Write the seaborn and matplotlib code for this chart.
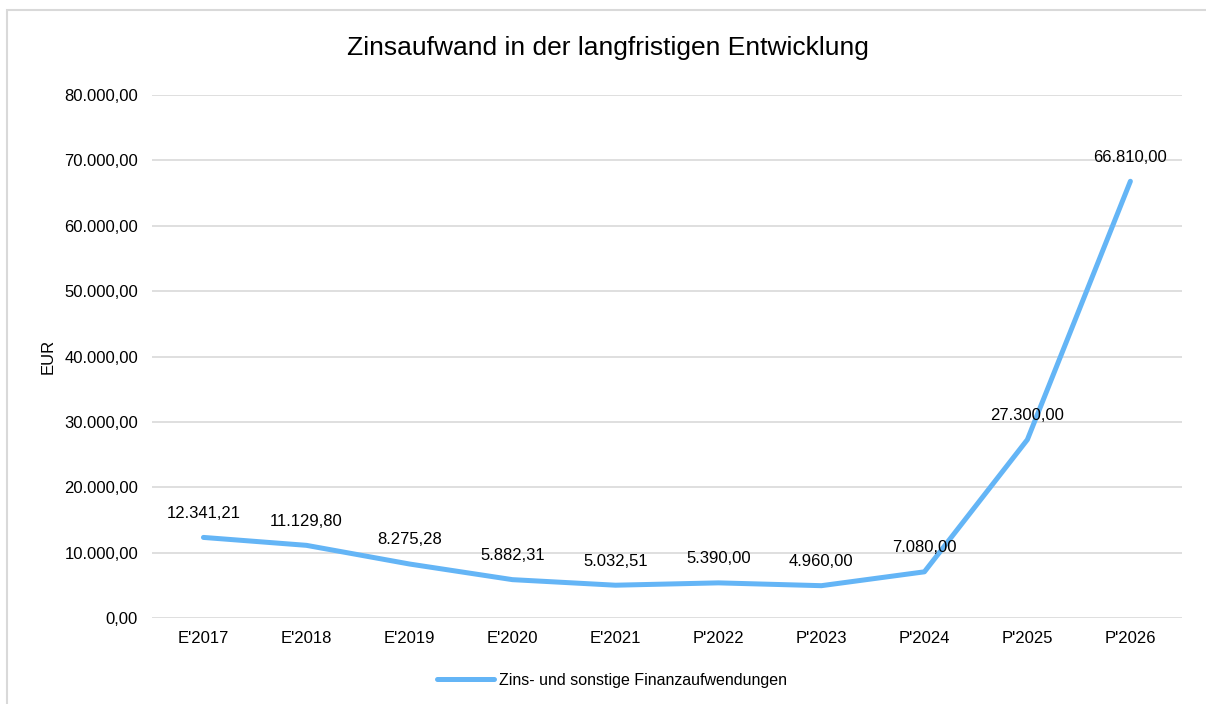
import matplotlib
matplotlib.use("Agg")
import matplotlib.pyplot as plt
import matplotlib.ticker as mticker
from matplotlib.patches import Rectangle
import seaborn as sns
import pandas as pd

years = ["E'2017", "E'2018", "E'2019", "E'2020", "E'2021",
         "P'2022", "P'2023", "P'2024", "P'2025", "P'2026"]
zinsaufwand = [12341.21, 11129.80, 8275.28, 5882.31, 5032.51,
               5390.00, 4960.00, 7080.00, 27300.00, 66810.00]
series_name = "Zins- und sonstige Finanzaufwendungen"


def de_format(v, pos=None):
    s = f"{v:,.2f}"
    return s.replace(",", "X").replace(".", ",").replace("X", ".")


df = pd.DataFrame({"Jahr": years, "EUR": zinsaufwand, "Reihe": series_name})

sns.set_style("white")
plt.rcParams["font.family"] = ["Liberation Sans", "DejaVu Sans"]
plt.rcParams["text.color"] = "black"
plt.rcParams["axes.labelcolor"] = "black"

fig = plt.figure(figsize=(12.06, 7.04), dpi=100)
ax = fig.add_axes([0.126, 0.122, 0.854, 0.743])

sns.lineplot(data=df, x="Jahr", y="EUR", hue="Reihe", palette=["#64B5F6"],
             linewidth=3.6, sort=False, ax=ax, zorder=3)

for i, v in enumerate(zinsaufwand):
    ax.annotate(de_format(v), (i, v), xytext=(0, 12), textcoords="offset points",
                ha="center", va="bottom", fontsize=12, color="black")

ax.set_xlim(-0.5, len(years) - 0.5)
ax.set_ylim(0, 80000)
ax.yaxis.set_major_locator(mticker.MultipleLocator(10000))
ax.yaxis.set_major_formatter(mticker.FuncFormatter(de_format))
ax.grid(axis="y", color="#D9D9D9", linewidth=1.2)
ax.grid(axis="x", visible=False)
for s in ax.spines.values():
    s.set_visible(False)
ax.tick_params(axis="both", length=0, labelsize=12, colors="black")
ax.tick_params(axis="y", pad=10)
ax.tick_params(axis="x", pad=9)
ax.set_xlabel("")
ax.set_ylabel("EUR", fontsize=12, labelpad=6)

fig.suptitle("Zinsaufwand in der langfristigen Entwicklung", fontsize=19,
             x=608 / 1206, y=1 - 36 / 704, va="top", color="black")

handles, labels = ax.get_legend_handles_labels()
ax.get_legend().remove()
fig.legend(handles, labels, loc="center", bbox_to_anchor=(612 / 1206, 1 - 680 / 704),
           frameon=False, fontsize=11.5, handlelength=3.6, handletextpad=0.3)

fig.patches.append(Rectangle((7 / 1206, -0.1), 1.2, 1.1 - 10 / 704,
                             transform=fig.transFigure, fill=False,
                             edgecolor="#D9D9D9", linewidth=1.5))

fig.savefig("out.png", dpi=100)
